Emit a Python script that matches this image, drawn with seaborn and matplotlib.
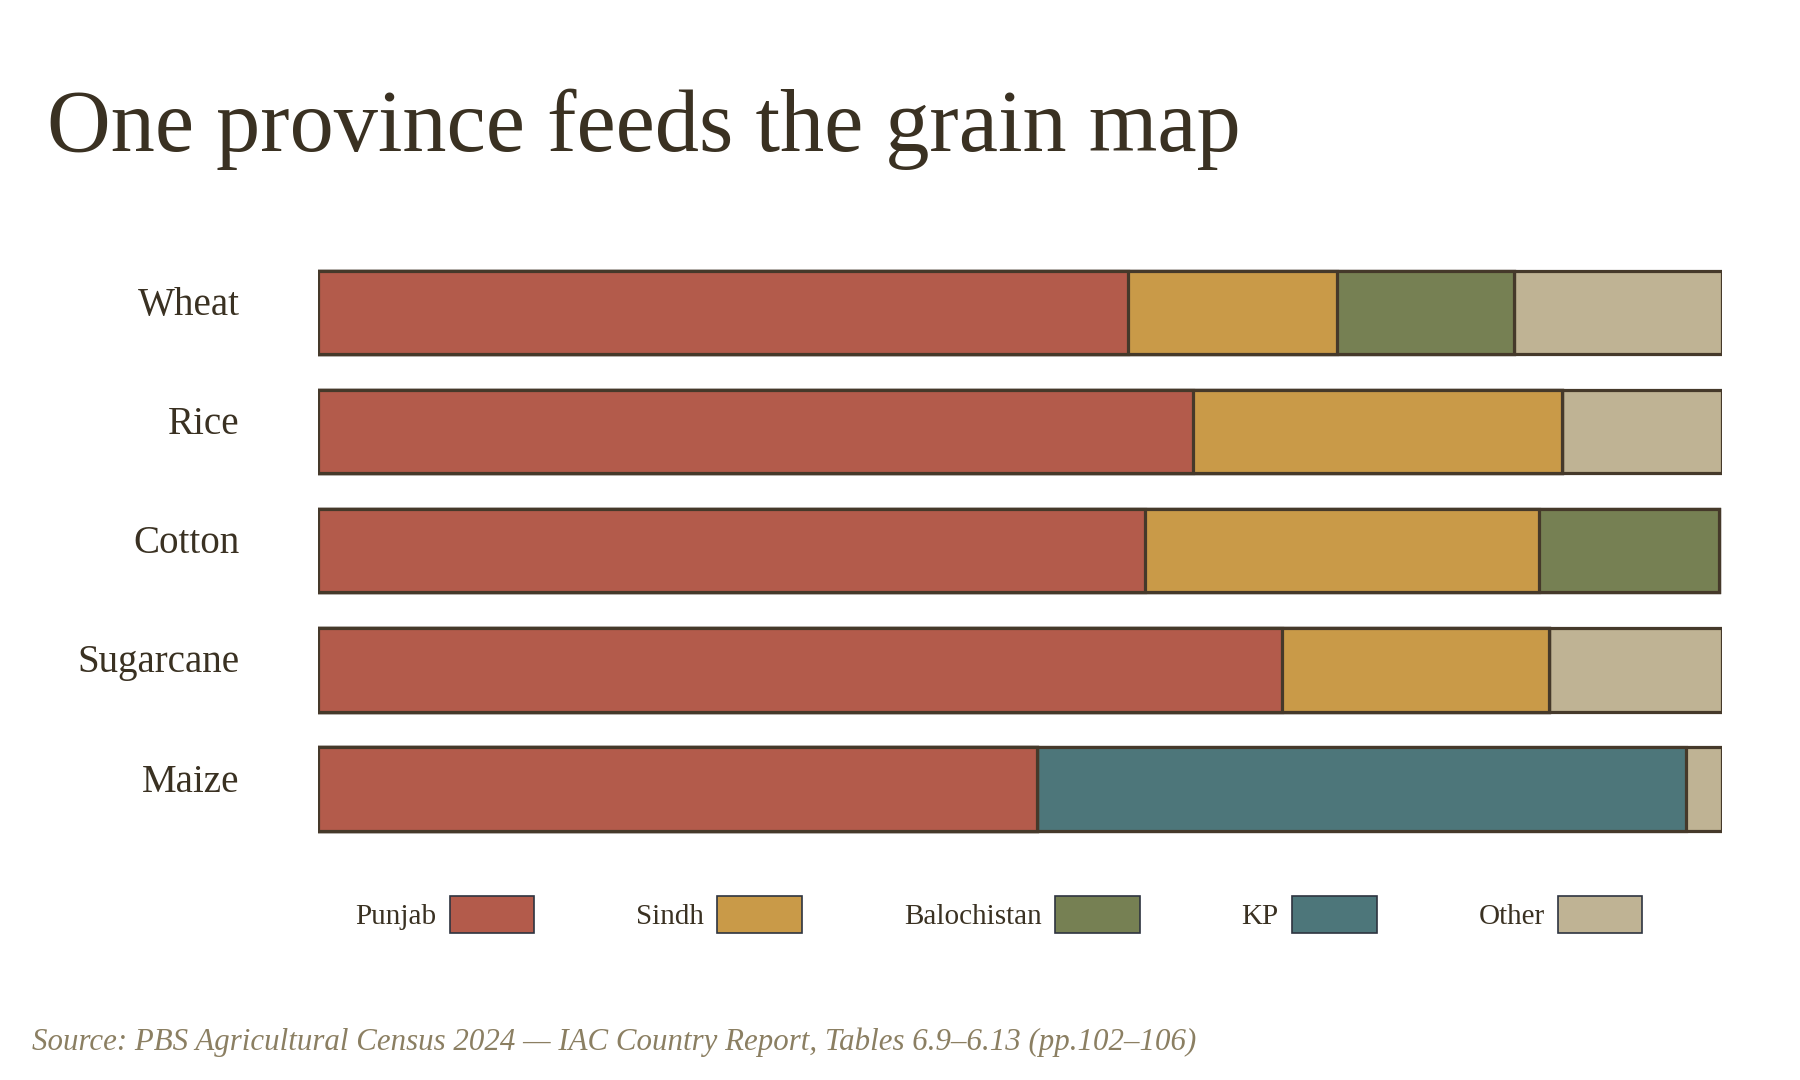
import numpy as np
import pandas as pd
import matplotlib
matplotlib.use("Agg")
import matplotlib.pyplot as plt
import matplotlib.transforms as mtransforms
from matplotlib.patches import Patch
import seaborn as sns

crops = ["Wheat", "Rice", "Cotton", "Sugarcane", "Maize"]
provinces = ["Punjab", "Sindh", "Balochistan", "KP", "Other"]
punjab = [57.7, 62.3, 58.9, 68.7, 51.2]
sindh = [14.9, 26.3, 28.1, 19.0, 0.0]
balochistan = [12.6, 0.0, 12.8, 0.0, 0.0]
kp = [0.0, 0.0, 0.0, 0.0, 46.2]
other = [14.8, 11.4, 0.0, 12.3, 2.6]
colors = ["#b35b4b", "#c99a48", "#768053", "#4d767a", "#bfb394"]

title = "One province feeds the grain map"
source = "Source: PBS Agricultural Census 2024 \u2014 IAC Country Report, Tables 6.9\u20136.13 (pp.102\u2013106)"

sns.set_theme(style="white")
plt.rcParams["font.family"] = ["Liberation Serif", "DejaVu Serif"]

TEXT = "#3a3122"
EDGE = "#45392a"

df = pd.DataFrame({"crop": crops, "Punjab": punjab, "Sindh": sindh,
                   "Balochistan": balochistan, "KP": kp, "Other": other})
cum = df[provinces].cumsum(axis=1)

fig = plt.figure(figsize=(18, 10.8), dpi=100)
fig.patch.set_facecolor("white")
ax = fig.add_axes([0.1764, 0.2142, 0.9567 - 0.1764, 0.766 - 0.2142])

for prov, col in reversed(list(zip(provinces, colors))):
    sns.barplot(x=cum[prov].values, y=df["crop"], orient="h", color=col,
                saturation=1, edgecolor=EDGE, linewidth=2.3, width=0.70,
                ax=ax, errorbar=None)

ax.set_xlim(0, 100)
ax.set_ylim(4.5, -0.5)
ax.set_xlabel("")
ax.set_ylabel("")
ax.set_xticks([])
for s in ax.spines.values():
    s.set_visible(False)
ax.tick_params(axis="y", length=0, pad=56, labelsize=28.1, labelcolor=TEXT)
shift = mtransforms.ScaledTranslation(0, -2.5 / 100, fig.dpi_scale_trans)
for lab in ax.get_yticklabels():
    lab.set_verticalalignment("baseline")
    lab.set_transform(lab.get_transform() + shift)

fig.text(0.026, 0.860, title, fontsize=63.5, color=TEXT, ha="left", va="baseline")
fig.text(0.018, 0.028, source, fontsize=22.2, color="#8b7f62", style="italic",
         ha="left", va="baseline")

handles = [Patch(facecolor=c, edgecolor="#2e3440", linewidth=1.2) for c in colors]
fig.legend(handles, provinces, loc="center", bbox_to_anchor=(0.555, 0.153),
           ncol=5, frameon=False, markerfirst=False, fontsize=21,
           handlelength=2.9, handleheight=1.6, handletextpad=0.45,
           columnspacing=3.5, labelcolor=TEXT)

fig.savefig("out.png", dpi=100, facecolor="white")
